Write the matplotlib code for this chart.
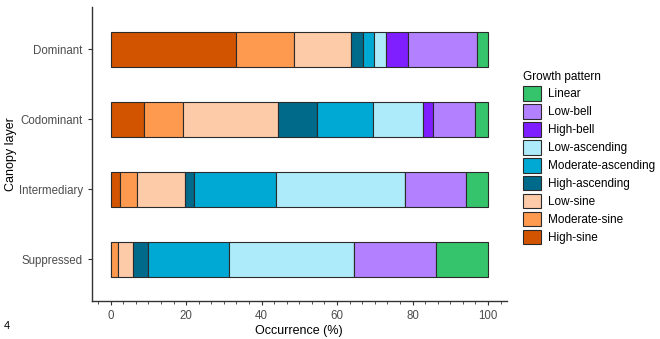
import matplotlib.pyplot as plt
from matplotlib.ticker import MultipleLocator
from matplotlib.patches import Patch

plt.rcParams['font.family'] = ['Liberation Sans', 'DejaVu Sans']

layers = ['Suppressed', 'Intermediary', 'Codominant', 'Dominant']
patterns = ['High-sine', 'Moderate-sine', 'Low-sine', 'High-ascending', 'Moderate-ascending',
            'Low-ascending', 'High-bell', 'Low-bell', 'Linear']
colors = ['#d35400', '#fd9a50', '#fdcba8', '#006a8a', '#00a9d4',
          '#aeebfa', '#7f1fff', '#b380ff', '#35c46c']

# occurrence (%) per pattern, one value per layer (Suppressed..Dominant)
high_sine = [0.0, 2.4, 8.8, 33.3]
moderate_sine = [2.0, 4.6, 10.3, 15.2]
low_sine = [3.9, 12.6, 25.3, 15.1]
high_ascending = [4.1, 2.4, 10.4, 3.3]
moderate_ascending = [21.3, 21.7, 14.6, 2.9]
low_ascending = [33.3, 34.4, 13.5, 3.1]
high_bell = [0.0, 0.0, 2.5, 6.0]
low_bell = [21.7, 16.2, 11.2, 18.1]
linear = [13.7, 5.7, 3.4, 3.0]

series = [high_sine, moderate_sine, low_sine, high_ascending, moderate_ascending,
          low_ascending, high_bell, low_bell, linear]

fig = plt.figure(figsize=(6.6, 3.39), dpi=100)
ax = fig.add_axes([0.139, 0.112, 0.629, 0.867])

left = [0.0] * len(layers)
for name, vals, c in zip(patterns, series, colors):
    ax.barh(layers, vals, left=left, height=0.5, color=c, edgecolor='#2b2b2b', linewidth=0.8)
    left = [l + v for l, v in zip(left, vals)]

ax.set_xlim(-5, 105)
ax.set_ylim(-0.6, 3.6)
ax.xaxis.set_major_locator(MultipleLocator(20))
ax.xaxis.set_minor_locator(MultipleLocator(20 / 6))
ax.tick_params(axis='both', colors='#333333', labelcolor='#4d4d4d', labelsize=8.3, length=3, width=0.8)
ax.tick_params(axis='x', which='minor', length=2, width=0.6, colors='#333333')
for s in ['top', 'right']:
    ax.spines[s].set_visible(False)
for s in ['left', 'bottom']:
    ax.spines[s].set_color('#333333')
    ax.spines[s].set_linewidth(1.0)

ax.set_xlabel('Occurrence (%)', fontsize=9, labelpad=2)
ax.set_ylabel('Canopy layer', fontsize=9, labelpad=1)

handles = [Patch(facecolor=c, edgecolor='#2b2b2b', linewidth=0.8) for c in colors][::-1]
leg = fig.legend(handles, patterns[::-1], title='Growth pattern', loc='upper left',
                 bbox_to_anchor=(0.786, 0.805), frameon=False, fontsize=8.5,
                 title_fontsize=8.5, handlelength=1.5, handleheight=1.5,
                 handletextpad=0.55, labelspacing=0.3, borderaxespad=0)
leg._legend_box.align = 'left'

fig.text(0.005, 0.03, '4', fontsize=8)

fig.savefig('out.png', dpi=100)
